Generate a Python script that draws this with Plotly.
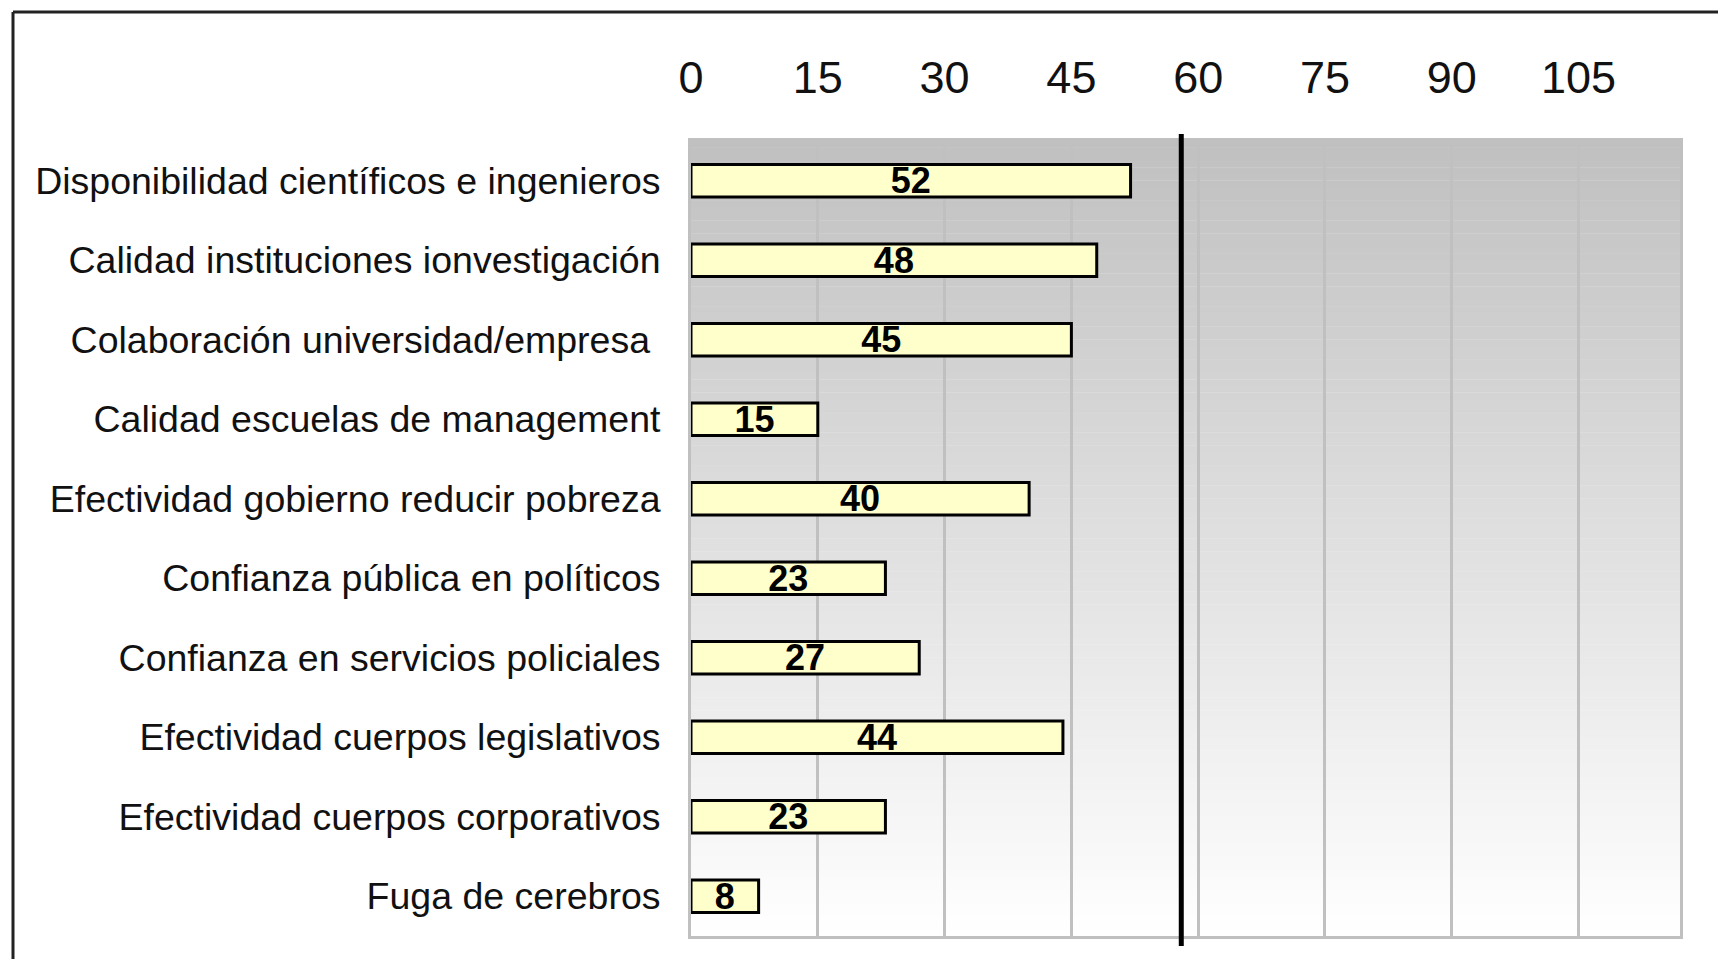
import plotly.graph_objects as go

categories = [
    "Disponibilidad científicos e ingenieros",
    "Calidad instituciones ionvestigación",
    "Colaboración universidad/empresa ",
    "Calidad escuelas de management",
    "Efectividad gobierno reducir pobreza",
    "Confianza pública en políticos",
    "Confianza en servicios policiales",
    "Efectividad cuerpos legislativos",
    "Efectividad cuerpos corporativos",
    "Fuga de cerebros",
]
values = [52, 48, 45, 15, 40, 23, 27, 44, 23, 8]
reference_value = 58
x_ticks = [0, 15, 30, 45, 60, 75, 90, 105]
x_max = 117

OFF = 8  # page body margin
W, H = 1726 - OFF, 959 - OFF
ML, MT = 691 - OFF, 141 - OFF
pw, ph = 989, 795
MR, MB = W - ML - pw, H - MT - ph

def px_x(p):
    return (p - OFF - ML) / pw

def px_y(p):
    return (MT + ph - (p - OFF)) / ph

FONT = "Liberation Sans, Arial, sans-serif"

fig = go.Figure()
fig.add_trace(go.Bar(
    y=categories, x=values, orientation="h",
    marker=dict(color="#FFFFCC", line=dict(color="black", width=3)),
    width=0.41,
    text=[str(v) for v in values], textposition="inside", textangle=0,
    insidetextanchor="middle", constraintext="none",
    textfont=dict(family=FONT, size=36, color="black", weight="bold"),
    showlegend=False, hoverinfo="skip",
))

shapes = []
# vertical gradient background (gray at top to white at bottom)
n = 120
for i in range(n):
    f = (i + 0.5) / n  # 0 at bottom
    v = int(round(255 - (255 - 192) * f))
    shapes.append(dict(type="rect", xref="paper", yref="paper",
                       x0=0, x1=1, y0=i / n, y1=min(1, (i + 1.05) / n),
                       fillcolor=f"rgb({v},{v},{v})", line=dict(width=0),
                       layer="below"))
# reference line
shapes.append(dict(type="line", xref="x", yref="paper",
                   x0=reference_value, x1=reference_value,
                   y0=px_y(946), y1=px_y(134),
                   line=dict(color="black", width=5)))
# outer frame
shapes.append(dict(type="line", xref="paper", yref="paper",
                   x0=px_x(13), x1=px_x(1740), y0=px_y(12), y1=px_y(12),
                   line=dict(color="#222", width=3)))
shapes.append(dict(type="line", xref="paper", yref="paper",
                   x0=px_x(13), x1=px_x(13), y0=px_y(12), y1=px_y(975),
                   line=dict(color="#222", width=3)))

fig.update_layout(
    width=W, height=H,
    margin=dict(l=ML, r=MR, t=MT, b=MB, pad=0, autoexpand=False),
    paper_bgcolor="white", plot_bgcolor="rgba(0,0,0,0)",
    shapes=shapes, bargap=0.6,
    font=dict(family=FONT, color="black"),
    xaxis=dict(side="top", range=[0, x_max], tickvals=x_ticks,
               ticktext=[str(t) for t in x_ticks],
               tickfont=dict(size=45, color="#111"),
               showgrid=True, gridcolor="#C0C0C0", gridwidth=3,
               zeroline=False, showline=True, mirror=True,
               linecolor="#C0C0C0", linewidth=3, ticks="",
               ticklabelstandoff=27, fixedrange=True, automargin=False),
    yaxis=dict(range=[len(categories) - 0.5, -0.5], type="category",
               tickfont=dict(size=37.5, color="#111"),
               showgrid=False, zeroline=False, showline=True, mirror=True,
               linecolor="#C0C0C0", linewidth=3, ticks="",
               ticklabelstandoff=20, fixedrange=True, automargin=False),
)

fig.write_html("out.html")
